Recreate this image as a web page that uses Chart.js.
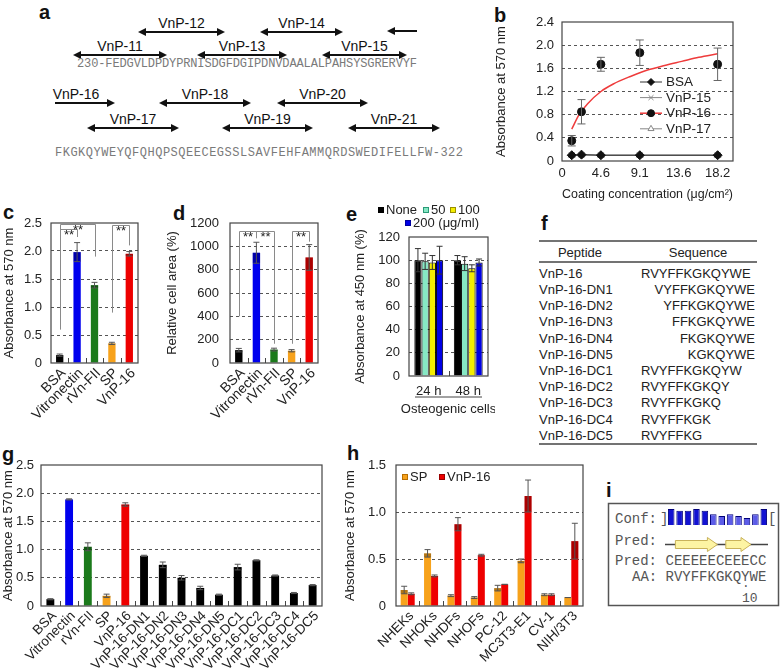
<!DOCTYPE html>
<html>
<head>
<meta charset="utf-8">
<script src="https://cdn.jsdelivr.net/npm/chart.js@4.4.1/dist/chart.umd.min.js"></script>
<style>
html, body { margin: 0; padding: 0; background: #fff; }
#fig { position: relative; width: 781px; height: 668px; overflow: hidden; background: #fff; }
#fig canvas { position: absolute; }
#fig svg { position: absolute; left: 0; top: 0; }
</style>
</head>
<body>
<div id="fig">
  <svg id="ann" width="781" height="668"></svg>
  <canvas id="chartB" width="291" height="210" style="left:490px;top:0px"></canvas>
  <canvas id="chartC" width="150" height="235" style="left:0px;top:200px"></canvas>
  <canvas id="chartD" width="167" height="235" style="left:163px;top:200px"></canvas>
  <canvas id="chartE" width="146" height="220" style="left:349px;top:200px"></canvas>
  <canvas id="chartG" width="330" height="228" style="left:0px;top:440px"></canvas>
  <canvas id="chartH" width="250" height="228" style="left:342px;top:440px"></canvas>
  <canvas id="chartI" width="101" height="16" style="left:667px;top:509px"></canvas>
</div>
<script>
// ---- data ----
// a: peptide map
const aSeq1 = "230-FEDGVLDPDYPRNISDGFDGIPDNVDAALALPAHSYSGRERVYF";
const aSeq2 = "FKGKQYWEYQFQHQPSQEECEGSSLSAVFEHFAMMQRDSWEDIFELLFW-322";

// b: coating concentration
const bConc = [1.14, 2.28, 4.55, 9.1, 18.2];
const bTickVals = [0, 4.55, 9.1, 13.65, 18.2];
const bTickLabels = ["0", "4.6", "9.1", "13.6", "18.2"];
const bBSA = [0.10, 0.11, 0.10, 0.10, 0.10];
const bVnP15 = [0.10, 0.10, 0.10, 0.10, 0.10];
const bVnP16 = [0.35, 0.85, 1.67, 1.87, 1.67];
const bVnP16Err = [0.09, 0.21, 0.12, 0.22, 0.28];
const bVnP17 = [0.10, 0.11, 0.10, 0.10, 0.10];
const bFitX = [1.14, 2, 3, 4.55, 6, 8, 10, 12, 14, 16, 18.2];
const bFitY = [0.55, 0.80, 0.99, 1.20, 1.33, 1.46, 1.57, 1.65, 1.72, 1.79, 1.85];

// c, d
const cdLabels = ["BSA", "Vitronectin", "rVn-FII", "SP", "VnP-16"];
const cValues = [0.14, 1.98, 1.39, 0.35, 1.95];
const cErr = [0.02, 0.17, 0.05, 0.02, 0.04];
const dValues = [110, 945, 115, 105, 905];
const dErr = [15, 90, 12, 10, 110];
// [from, to, level, left end, right end]
const cBrackets = [[0, 1, 2.39, 0.6, 2.25], [0, 2, 2.48, 0.6, 1.9], [3, 4, 2.46, 0.9, 2.1]];
const dBrackets = [[0, 1, 1130, 400, 1070], [1, 2, 1130, 1070, 165], [3, 4, 1130, 165, 1040]];

// e
const eGroups = ["24 h", "48 h"];
const eDoses = ["None", "50", "100", "200 (\u03bcg/ml)"];
const eNone = [100, 100], eNoneErr = [10, 4];
const e50 = [99, 97], e50Err = [7, 6];
const e100 = [98, 93], e100Err = [6, 3];
const e200 = [100, 98], e200Err = [12, 3];

// f
const fPeptides = ["VnP-16", "VnP-16-DN1", "VnP-16-DN2", "VnP-16-DN3", "VnP-16-DN4", "VnP-16-DN5",
  "VnP-16-DC1", "VnP-16-DC2", "VnP-16-DC3", "VnP-16-DC4", "VnP-16-DC5"];
const fSequences = ["RVYFFKGKQYWE", "VYFFKGKQYWE", "YFFKGKQYWE", "FFKGKQYWE", "FKGKQYWE", "KGKQYWE",
  "RVYFFKGKQYW", "RVYFFKGKQY", "RVYFFKGKQ", "RVYFFKGK", "RVYFFKG"];

// g
const gLabels = ["BSA", "Vitronectin", "rVn-FII", "SP", "VnP-16", "VnP-16-DN1", "VnP-16-DN2", "VnP-16-DN3",
  "VnP-16-DN4", "VnP-16-DN5", "VnP-16-DC1", "VnP-16-DC2", "VnP-16-DC3", "VnP-16-DC4", "VnP-16-DC5"];
const gValues = [0.12, 1.89, 1.05, 0.18, 1.80, 0.89, 0.73, 0.50, 0.32, 0.20, 0.69, 0.81, 0.54, 0.23, 0.37];
const gErr = [0.01, 0.01, 0.07, 0.03, 0.03, 0.01, 0.05, 0.04, 0.03, 0.01, 0.05, 0.01, 0.01, 0.01, 0.01];

// h
const hCells = ["NHEKs", "NHOKs", "NHDFs", "NHOFs", "PC-12", "MC3T3-E1", "CV-1", "NIH/3T3"];
const hSP = [0.17, 0.56, 0.11, 0.09, 0.19, 0.48, 0.12, 0.09];
const hSPErr = [0.04, 0.04, 0.01, 0.01, 0.03, 0.02, 0.01, 0.00];
const hVnP16 = [0.13, 0.32, 0.87, 0.54, 0.23, 1.17, 0.12, 0.69];
const hVnP16Err = [0.01, 0.01, 0.07, 0.01, 0.00, 0.17, 0.01, 0.19];

// i
const iConf = [9, 8, 8, 9, 8, 6, 5, 6, 5, 4, 6, 9];
const iPred = "CEEEEECEEECC";
const iAA = "RVYFFKGKQYWE";

// ---- styles ----
const FONT = "'Liberation Sans', Arial, sans-serif";
const MONO = "'Liberation Mono', 'Courier New', monospace";
const BLACK = "#000000", BLUE = "#0000ee", GREEN = "#1b7a1b", ORANGE = "#f7a21b", RED = "#ee0000";
const cdColors = [BLACK, BLUE, GREEN, ORANGE, RED];

Chart.defaults.font.family = FONT;
Chart.defaults.font.size = 13;
Chart.defaults.color = "#222";
Chart.defaults.animation = false;
Chart.defaults.plugins.legend.display = false;
Chart.defaults.plugins.tooltip.enabled = false;

const pts = (xs, ys) => xs.map((x, i) => ({ x: x, y: ys[i] }));
const fmt1 = v => (v === 0 ? "0" : v.toFixed(1));
const fmt0 = v => String(v);

// frame round the plot, short inner ticks between categories, free titles
const framePlugin = {
  id: "frame",
  afterDraw(chart, args, opts) {
    const { ctx, chartArea: a } = chart;
    ctx.save();
    ctx.strokeStyle = "#444";
    ctx.lineWidth = 1.2;
    ctx.strokeRect(a.left, a.top, a.right - a.left, a.bottom - a.top);
    if (opts.innerTicks) {
      const n = chart.data.labels.length;
      const w = (a.right - a.left) / n;
      ctx.lineWidth = 1;
      ctx.beginPath();
      for (let i = 1; i < n; i++) {
        const x = Math.round(a.left + i * w) + 0.5;
        ctx.moveTo(x, a.bottom);
        ctx.lineTo(x, a.bottom - opts.innerTicks);
      }
      ctx.stroke();
    }
    if (opts.underline) {
      const u = opts.underline;
      ctx.lineWidth = 1;
      ctx.beginPath();
      ctx.moveTo(a.left + u.inset, a.bottom + u.dy);
      ctx.lineTo(a.right - u.inset, a.bottom + u.dy);
      ctx.stroke();
    }
    ctx.fillStyle = "#222";
    ctx.font = "13px " + FONT;
    ctx.textAlign = "center";
    ctx.textBaseline = "middle";
    if (opts.caption) {
      ctx.fillText(opts.caption.text, (a.left + a.right) / 2, a.bottom + opts.caption.dy);
    }
    if (opts.yTitle) {
      ctx.translate(opts.yTitle.x, (a.top + a.bottom) / 2);
      ctx.rotate(-Math.PI / 2);
      ctx.fillText(opts.yTitle.text, 0, 0);
    }
    ctx.restore();
  }
};

const errorBars = {
  id: "errorBars",
  afterDatasetsDraw(chart) {
    const { ctx } = chart;
    const ys = chart.scales.y;
    chart.data.datasets.forEach((ds, di) => {
      if (!ds.err) return;
      const meta = chart.getDatasetMeta(di);
      meta.data.forEach((el, i) => {
        const e = ds.err[i];
        const raw = ds.data[i];
        const v = typeof raw === "object" ? raw.y : raw;
        const x = el.x;
        const yv = ys.getPixelForValue(v);
        const yt = ys.getPixelForValue(v + e);
        const yb = ys.getPixelForValue(v - e);
        const cap = ds.errCap || 3;
        ctx.save();
        if (ds.errBand && e > 0) {
          ctx.fillStyle = "rgba(0,0,0,0.28)";
          ctx.fillRect(x - el.width / 2, yv, el.width, yb - yv);
        }
        ctx.strokeStyle = ds.errColor || "#555";
        ctx.lineWidth = 1;
        ctx.beginPath();
        ctx.moveTo(x, yt); ctx.lineTo(x, yb);
        ctx.moveTo(x - cap, yt); ctx.lineTo(x + cap, yt);
        ctx.moveTo(x - cap, yb); ctx.lineTo(x + cap, yb);
        ctx.stroke();
        ctx.restore();
      });
    });
  }
};

const bracketPlugin = {
  id: "brackets",
  afterDraw(chart, args, opts) {
    if (!opts.items) return;
    const { ctx } = chart;
    const xs = chart.scales.x, ys = chart.scales.y;
    ctx.save();
    ctx.strokeStyle = "#8a8a8a";
    ctx.lineWidth = 1;
    ctx.fillStyle = "#222";
    ctx.font = "13px " + FONT;
    ctx.textAlign = "center";
    ctx.textBaseline = "top";
    opts.items.forEach(([i, j, lvl, l1, l2]) => {
      const x1 = Math.round(xs.getPixelForValue(i)) + 0.5;
      const x2 = Math.round(xs.getPixelForValue(j)) + 0.5;
      const y = Math.round(ys.getPixelForValue(lvl)) + 0.5;
      ctx.beginPath();
      ctx.moveTo(x1, ys.getPixelForValue(l1));
      ctx.lineTo(x1, y);
      ctx.lineTo(x2, y);
      ctx.lineTo(x2, ys.getPixelForValue(l2));
      ctx.stroke();
      ctx.fillText("**", (x1 + x2) / 2, y - 1);
    });
    ctx.restore();
  }
};

const boxLegend = {
  id: "boxLegend",
  afterDraw(chart, args, opts) {
    if (!opts.items) return;
    const { ctx } = chart;
    ctx.save();
    ctx.font = "13px " + FONT;
    ctx.textBaseline = "middle";
    opts.items.forEach(it => {
      const ds = chart.data.datasets[it.ds];
      ctx.fillStyle = ds.backgroundColor;
      ctx.fillRect(it.x, it.y - 3, 6, 6);
      ctx.strokeStyle = ds.legendBorder || ds.backgroundColor;
      ctx.lineWidth = 1;
      ctx.strokeRect(it.x + 0.5, it.y - 2.5, 5, 5);
      ctx.fillStyle = "#222";
      ctx.fillText(ds.label, it.x + 8, it.y + 0.5);
    });
    ctx.restore();
  }
};

const lineLegend = {
  id: "lineLegend",
  afterDraw(chart, args, opts) {
    if (!opts.items) return;
    const { ctx } = chart;
    opts.items.forEach((it, k) => {
      const y = opts.y + k * opts.step;
      const lds = chart.data.datasets[it.line];
      const pds = chart.data.datasets[it.ds];
      ctx.save();
      ctx.strokeStyle = lds.borderColor;
      ctx.lineWidth = lds.borderWidth || 1;
      ctx.beginPath();
      ctx.moveTo(opts.x, y);
      ctx.lineTo(opts.x + opts.len, y);
      ctx.stroke();
      ctx.fillStyle = pds.backgroundColor;
      ctx.strokeStyle = pds.pointBorderColor || pds.borderColor;
      ctx.lineWidth = 1;
      Chart.helpers.drawPoint(ctx, { pointStyle: pds.pointStyle, radius: opts.radius, rotation: 0, borderWidth: 1 },
        opts.x + opts.len / 2, y);
      ctx.fillStyle = "#222";
      ctx.font = "13.5px " + FONT;
      ctx.textBaseline = "middle";
      ctx.fillText(pds.label, opts.x + opts.len + 4, y + 0.5);
      ctx.restore();
    });
  }
};

function yAxis(max, step, title, width, fmt, tickPad, titlePad) {
  return {
    min: 0, max: max,
    ticks: { stepSize: step, padding: tickPad, callback: fmt },
    grid: {
      drawTicks: false,
      lineWidth: 1,
      color: c => (c.tick && (c.tick.value <= 1e-9 || c.tick.value >= max - 1e-9)) ? "rgba(0,0,0,0)" : "#555"
    },
    border: { display: false, dash: [3, 3] },
    title: { display: !!title, text: title, padding: { top: titlePad, bottom: 0 } },
    afterFit: s => { s.width = width; }
  };
}

function catAxis(height, fontSize, extra) {
  return Object.assign({
    grid: { display: false, drawTicks: false },
    border: { display: false },
    ticks: { autoSkip: false, maxRotation: 45, minRotation: 45, padding: 2, labelOffset: 4, font: { size: fontSize } },
    afterFit: s => { s.height = height; }
  }, extra || {});
}

const common = { responsive: false, animation: false, devicePixelRatio: 1 };

// ---- b ----
new Chart(document.getElementById("chartB"), {
  type: "scatter",
  data: {
    datasets: [
      { label: "VnP-16", data: pts(bConc, bVnP16), err: bVnP16Err, errCap: 4, errColor: "#666",
        pointStyle: "circle", pointRadius: 4, backgroundColor: "#111", borderColor: "#111", showLine: false },
      { label: "VnP-16 fit", data: pts(bFitX, bFitY), showLine: true, borderColor: "#ee3b3b", borderWidth: 1.5,
        pointRadius: 0, cubicInterpolationMode: "monotone", fill: false },
      { label: "BSA", data: pts(bConc, bBSA), showLine: true, borderColor: "#333", borderWidth: 1,
        pointStyle: "rectRot", pointRadius: 4.5, backgroundColor: "#111", pointBorderColor: "#111" },
      { label: "VnP-15", data: pts(bConc, bVnP15), showLine: true, borderColor: "#888", borderWidth: 1,
        pointStyle: "crossRot", pointRadius: 4, backgroundColor: "#888" },
      { label: "VnP-17", data: pts(bConc, bVnP17), showLine: true, borderColor: "#888", borderWidth: 1,
        pointStyle: "triangle", pointRadius: 4, backgroundColor: "#fff" }
    ]
  },
  options: Object.assign({}, common, {
    layout: { padding: { left: 0, right: 48, top: 22, bottom: 0 } },
    scales: {
      x: {
        type: "linear", min: 0, max: 20,
        afterBuildTicks: s => { s.ticks = bTickVals.map(v => ({ value: v })); },
        ticks: { padding: 5, callback: (v, i) => bTickLabels[i] },
        grid: { display: false, drawTicks: false },
        border: { display: false },
        title: { display: true, text: "Coating concentration (\u03bcg/cm\u00b2)", padding: { top: 0, bottom: 8 } },
        afterFit: s => { s.height = 49; }
      },
      y: yAxis(2.4, 0.4, "Absorbance at 570 nm", 72, fmt1, 8, 4)
    },
    plugins: {
      frame: {},
      lineLegend: {
        x: 150, y: 82, step: 15.6, len: 22, radius: 3.5,
        items: [{ ds: 2, line: 2 }, { ds: 3, line: 3 }, { ds: 0, line: 1 }, { ds: 4, line: 4 }]
      }
    }
  }),
  plugins: [framePlugin, errorBars, lineLegend]
});

// ---- c ----
new Chart(document.getElementById("chartC"), {
  type: "bar",
  data: {
    labels: cdLabels,
    datasets: [{ label: "c", data: cValues, err: cErr, errBand: true, backgroundColor: cdColors,
      barPercentage: 0.42, categoryPercentage: 1 }]
  },
  options: Object.assign({}, common, {
    layout: { padding: { left: 0, right: 12, top: 23, bottom: 0 } },
    scales: { x: catAxis(72, 14), y: yAxis(2.5, 0.5, "Absorbance at 570 nm", 51, fmt1, 9, 2) },
    plugins: { frame: { innerTicks: 5 }, brackets: { items: cBrackets } }
  }),
  plugins: [framePlugin, errorBars, bracketPlugin]
});

// ---- d ----
new Chart(document.getElementById("chartD"), {
  type: "bar",
  data: {
    labels: cdLabels,
    datasets: [{ label: "d", data: dValues, err: dErr, errBand: true, backgroundColor: cdColors,
      barPercentage: 0.42, categoryPercentage: 1 }]
  },
  options: Object.assign({}, common, {
    layout: { padding: { left: 0, right: 12, top: 23, bottom: 0 } },
    scales: { x: catAxis(72, 14), y: yAxis(1200, 200, "Relative cell area (%)", 67, fmt0, 11, 2) },
    plugins: { frame: { innerTicks: 5 }, brackets: { items: dBrackets } }
  }),
  plugins: [framePlugin, errorBars, bracketPlugin]
});

// ---- e ----
const eBar = { borderColor: "#000", borderWidth: 1, barPercentage: 1, categoryPercentage: 0.73, errColor: "#333", errCap: 3 };
new Chart(document.getElementById("chartE"), {
  type: "bar",
  data: {
    labels: eGroups,
    datasets: [
      Object.assign({ label: eDoses[0], data: eNone, err: eNoneErr, backgroundColor: "#000000", legendBorder: "#000" }, eBar),
      Object.assign({ label: eDoses[1], data: e50, err: e50Err, backgroundColor: "#86e8c4", legendBorder: "#2a9a78" }, eBar),
      Object.assign({ label: eDoses[2], data: e100, err: e100Err, backgroundColor: "#f4ee00", legendBorder: "#9a8f00" }, eBar),
      Object.assign({ label: eDoses[3], data: e200, err: e200Err, backgroundColor: "#0000e6", legendBorder: "#0000a0" }, eBar)
    ]
  },
  options: Object.assign({}, common, {
    layout: { padding: { left: 0, right: 7, top: 37, bottom: 0 } },
    scales: {
      x: catAxis(44, 13, { ticks: { autoSkip: false, maxRotation: 0, minRotation: 0, padding: 8 } }),
      y: yAxis(120, 20, "", 60, fmt0, 9, 2)
    },
    plugins: {
      frame: {
        innerTicks: 5,
        underline: { inset: 6, dy: 21 },
        caption: { text: "Osteogenic cells", dy: 33 },
        yTitle: { text: "Absorbance at 450 nm (%)", x: 11 }
      },
      boxLegend: { items: [{ ds: 0, x: 29, y: 10 }, { ds: 1, x: 74, y: 10 }, { ds: 2, x: 101, y: 10 }, { ds: 3, x: 56, y: 23 }] }
    }
  }),
  plugins: [framePlugin, errorBars, boxLegend]
});

// ---- g ----
new Chart(document.getElementById("chartG"), {
  type: "bar",
  data: {
    labels: gLabels,
    datasets: [{ label: "g", data: gValues, err: gErr, errBand: true,
      backgroundColor: gLabels.map((l, i) => (i < cdColors.length ? cdColors[i] : BLACK)),
      barPercentage: 0.42, categoryPercentage: 1 }]
  },
  options: Object.assign({}, common, {
    layout: { padding: { left: 0, right: 8, top: 25, bottom: 0 } },
    scales: { x: catAxis(62, 13.5), y: yAxis(2.5, 0.5, "Absorbance at 570 nm", 41, fmt1, 7, 1) },
    plugins: { frame: { innerTicks: 5 } }
  }),
  plugins: [framePlugin, errorBars]
});

// ---- h ----
new Chart(document.getElementById("chartH"), {
  type: "bar",
  data: {
    labels: hCells,
    datasets: [
      { label: "SP", data: hSP, err: hSPErr, errBand: true, backgroundColor: ORANGE, legendBorder: "#b86e00",
        barPercentage: 1, categoryPercentage: 0.6 },
      { label: "VnP-16", data: hVnP16, err: hVnP16Err, errBand: true, backgroundColor: RED, legendBorder: "#900",
        barPercentage: 1, categoryPercentage: 0.6 }
    ]
  },
  options: Object.assign({}, common, {
    layout: { padding: { left: 0, right: 9, top: 25, bottom: 0 } },
    scales: { x: catAxis(62, 13.5), y: yAxis(1.5, 0.5, "Absorbance at 570 nm", 54, fmt1, 10, 1) },
    plugins: {
      frame: { innerTicks: 5 },
      boxLegend: { items: [{ ds: 0, x: 60, y: 37 }, { ds: 1, x: 97, y: 37 }] }
    }
  }),
  plugins: [framePlugin, errorBars, boxLegend]
});

// ---- i: confidence bars ----
new Chart(document.getElementById("chartI"), {
  type: "bar",
  data: {
    labels: iAA.split(""),
    datasets: [{ label: "Conf", data: iConf,
      backgroundColor: iConf.map(v => (v >= 8 ? "#1212d2" : "#5c5ce8")),
      borderColor: "#00007a", borderWidth: 1, barPercentage: 0.78, categoryPercentage: 1 }]
  },
  options: Object.assign({}, common, {
    layout: { padding: 0 },
    scales: { x: { display: false }, y: { display: false, min: 0, max: 9 } }
  })
});

// ---- SVG text parts: panel letters, a, f, i ----
const NS = "http://www.w3.org/2000/svg";
const svg = document.getElementById("ann");
function add(tag, attrs, text) {
  const e = document.createElementNS(NS, tag);
  for (const k in attrs) e.setAttribute(k, attrs[k]);
  if (text != null) e.textContent = text;
  svg.appendChild(e);
  return e;
}

[["a", 39, 19], ["b", 494, 22], ["c", 3, 219], ["d", 173, 220], ["e", 346, 221],
 ["f", 541, 230], ["g", 2, 461], ["h", 347, 460], ["i", 606, 497]].forEach(([t, x, y]) => {
  add("text", { x: x, y: y, "font-family": FONT, "font-size": 20, "font-weight": "bold", fill: "#111" }, t);
});

// a
function arrow(x1, x2, y, heads) {
  const h = 8, w = 4;
  const L = heads === "both" || heads === "left";
  const R = heads === "both" || heads === "right";
  add("line", { x1: L ? x1 + h - 1 : x1, y1: y, x2: R ? x2 - h + 1 : x2, y2: y, stroke: "#111", "stroke-width": 2 });
  if (L) add("polygon", { points: `${x1},${y} ${x1 + h},${y - w} ${x1 + h},${y + w}`, fill: "#111" });
  if (R) add("polygon", { points: `${x2},${y} ${x2 - h},${y - w} ${x2 - h},${y + w}`, fill: "#111" });
}
const aArrows = [
  ["VnP-12", 138, 225, 32, "both"], ["VnP-14", 260, 343, 32, "both"], ["", 387, 417, 31, "left"],
  ["VnP-11", 73, 167, 55, "both"], ["VnP-13", 197, 287, 55, "both"], ["VnP-15", 322, 407, 55, "both"],
  ["VnP-16", 55, 115, 103, "right", 76], ["VnP-18", 159, 251, 103, "both"], ["VnP-20", 277, 368, 103, "both"],
  ["VnP-17", 87, 179, 128, "both"], ["VnP-19", 222, 313, 128, "both"], ["VnP-21", 348, 440, 128, "both"]
];
aArrows.forEach(([label, x1, x2, y, heads, lx]) => {
  arrow(x1, x2, y, heads);
  if (label) add("text", { x: lx || (x1 + x2) / 2, y: y - 4, "text-anchor": "middle", "font-family": FONT,
    "font-size": 14, fill: "#111" }, label);
});
add("text", { x: 77, y: 67, "font-family": MONO, "font-size": 12, fill: "#7a7a7a",
  textLength: 340, lengthAdjust: "spacing" }, aSeq1);
add("text", { x: 55, y: 156, "font-family": MONO, "font-size": 12, fill: "#7a7a7a",
  textLength: 408, lengthAdjust: "spacing" }, aSeq2);

// f
[241, 262, 444].forEach(y => add("line", { x1: 539, y1: y, x2: 757, y2: y, stroke: "#444", "stroke-width": 1.5 }));
add("text", { x: 580, y: 257, "text-anchor": "middle", "font-family": FONT, "font-size": 13, fill: "#222" }, "Peptide");
add("text", { x: 698, y: 257, "text-anchor": "middle", "font-family": FONT, "font-size": 13, fill: "#222" }, "Sequence");
fPeptides.forEach((p, k) => {
  const y = 273 + k * 16.2 + 4.7;
  add("text", { x: 539, y: y, "font-family": FONT, "font-size": 13, fill: "#222" }, p);
  const dn = p.indexOf("DN") >= 0;
  add("text", { x: dn ? 755 : 641, y: y, "text-anchor": dn ? "end" : "start", "font-family": FONT,
    "font-size": 13, fill: "#222" }, fSequences[k]);
});

// i
const iX0 = 667, iCh = 8.4;
add("rect", { x: 608.5, y: 503.5, width: 170, height: 102, fill: "none", stroke: "#555", "stroke-width": 1.5 });
const monoAttr = (x, y) => ({ x: x, y: y, "font-family": MONO, "font-size": 14, fill: "#555" });
add("text", monoAttr(615, 523), "Conf:");
add("text", monoAttr(660, 523), "]");
add("text", monoAttr(768, 523), "[");
add("text", monoAttr(615, 545), "Pred:");
add("text", monoAttr(615, 565), "Pred:");
add("text", monoAttr(iX0 - 1.5, 565), iPred);
add("text", monoAttr(632, 581), "AA:");
add("text", monoAttr(iX0 - 1.5, 581), iAA);
add("text", { x: iX0 + 9.5 * iCh - 1, y: 587, "text-anchor": "middle", "font-family": MONO, "font-size": 12, fill: "#555" }, ".");
add("text", { x: iX0 + 9.5 * iCh + 3, y: 602, "text-anchor": "middle", "font-family": MONO, "font-size": 13, fill: "#555" }, "10");
add("line", { x1: 665, y1: 544.5, x2: 768, y2: 544.5, stroke: "#444", "stroke-width": 1.5 });
for (let s = 0; s < iPred.length; s++) {
  if (iPred[s] !== "E" || (s > 0 && iPred[s - 1] === "E")) continue;
  let e = s;
  while (e + 1 < iPred.length && iPred[e + 1] === "E") e++;
  const x1 = iX0 + s * iCh, x2 = iX0 + (e + 1) * iCh, y = 544.5;
  add("polygon", { points: `${x1},${y - 4} ${x2 - 10},${y - 4} ${x2 - 10},${y - 7} ${x2},${y} ${x2 - 10},${y + 7} ${x2 - 10},${y + 4} ${x1},${y + 4}`,
    fill: "#fdf4a3", stroke: "#c9b25a", "stroke-width": 1 });
}
</script>
</body>
</html>
